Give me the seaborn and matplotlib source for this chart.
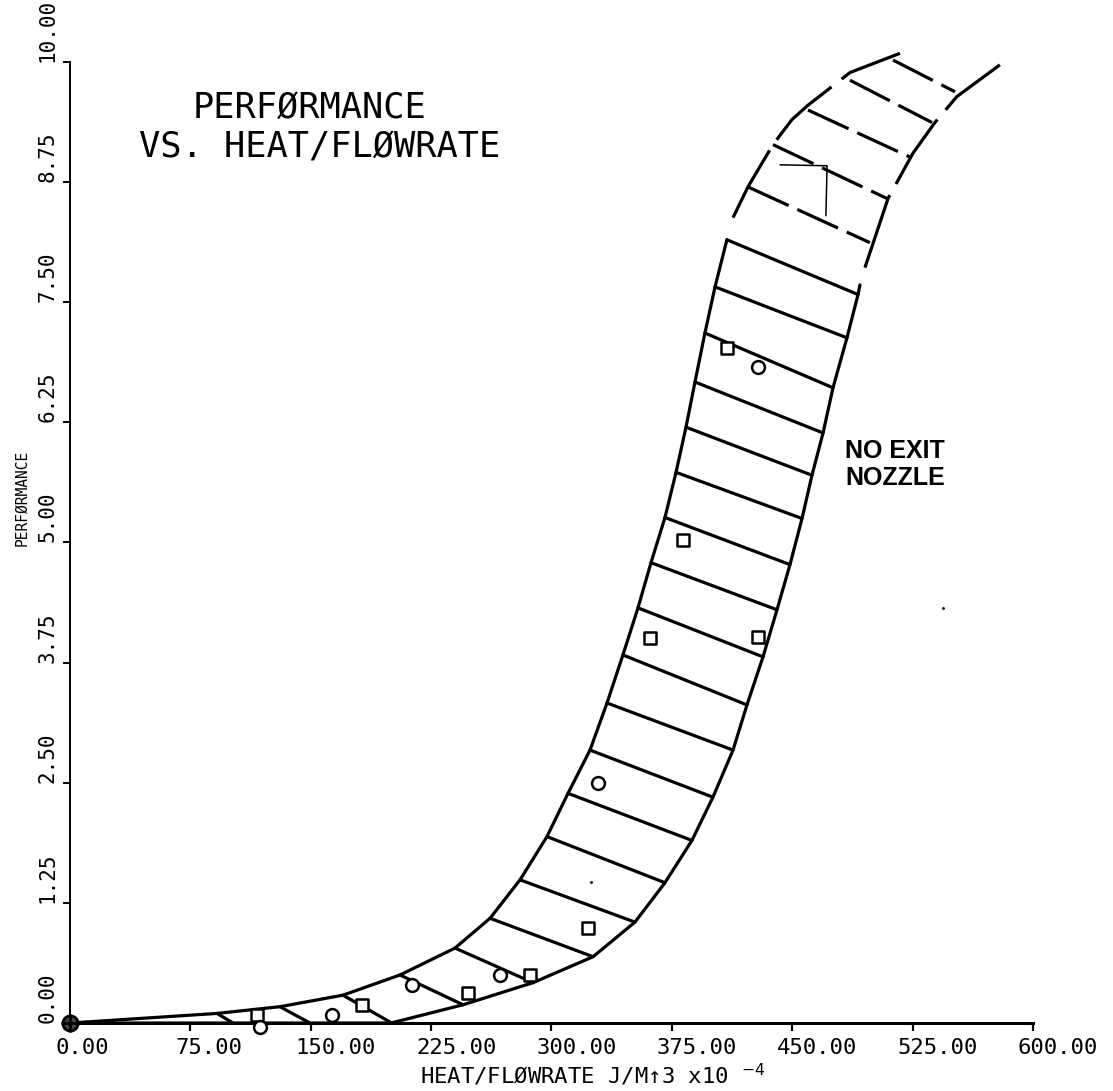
import matplotlib
matplotlib.use("Agg")
import matplotlib.pyplot as plt
import matplotlib.transforms as mtransforms
import pandas as pd
import seaborn as sns

# ---------------- data ----------------
xticks = [0, 75, 150, 225, 300, 375, 450, 525, 600]
xtick_labels = ["0.00", "75.00", "150.00", "225.00", "300.00", "375.00", "450.00", "525.00", "600.00"]
yticks = [0, 1.25, 2.5, 3.75, 5.0, 6.25, 7.5, 8.75, 10.0]
ytick_labels = ["0.00", "1.25", "2.50", "3.75", "5.00", "6.25", "7.50", "8.75", "10.00"]

# upper-left boundary of the band (solid part)
upper_x = [0, 91.6, 130.8, 170.1, 205.6, 239.9, 261.7, 280.4, 297.2, 310.3, 324.0,
           334.6, 344.5, 353.9, 362.0, 370.7, 377.6, 383.8, 389.4, 395.6, 401.9, 409.3]
upper_y = [0, 0.10, 0.17, 0.29, 0.50, 0.78, 1.09, 1.49, 1.94, 2.39, 2.84,
           3.33, 3.83, 4.32, 4.79, 5.26, 5.73, 6.20, 6.67, 7.18, 7.66, 8.15]
# lower-right boundary of the band (solid part)
lower_x = [0, 200.0, 244.9, 288.5, 325.9, 352.0, 370.7, 387.5, 400.6, 413.1, 421.8,
           431.8, 440.5, 448.6, 456.1, 462.3, 469.2, 475.4, 484.1, 491.0, 492.2]
lower_y = [0, 0, 0.19, 0.42, 0.69, 1.05, 1.46, 1.90, 2.35, 2.84, 3.31,
           3.81, 4.30, 4.77, 5.25, 5.70, 6.14, 6.61, 7.13, 7.58, 7.68]
# dashed (extrapolated) continuation
upper_dash_x = [413.1, 422.4, 438.0, 449.8, 459.8, 486.0, 517.1]
upper_dash_y = [8.38, 8.70, 9.14, 9.40, 9.55, 9.89, 10.09]
lower_dash_x = [495.3, 509.7, 525.2, 538.9, 552.6, 579.4]
lower_dash_y = [7.86, 8.58, 9.05, 9.37, 9.64, 9.97]

# cross-hatch lines between the boundaries (solid)
hatch_x0 = [91.6, 130.8, 170.1, 205.6, 239.9, 261.7, 280.4, 297.2, 310.3, 324.0, 334.6,
            344.5, 353.9, 362.0, 370.7, 377.6, 383.8, 389.4, 395.6, 401.9, 409.3]
hatch_y0 = [0.10, 0.17, 0.29, 0.50, 0.78, 1.09, 1.49, 1.94, 2.39, 2.84, 3.33,
            3.83, 4.32, 4.79, 5.26, 5.73, 6.20, 6.67, 7.18, 7.66, 8.15]
hatch_x1 = [101.6, 149.5, 199.4, 244.9, 288.5, 325.9, 352.0, 370.7, 387.5, 400.6, 413.1,
            421.8, 431.8, 440.5, 448.6, 456.1, 462.3, 469.2, 475.4, 484.1, 491.0]
hatch_y1 = [0.0, 0.0, 0.01, 0.19, 0.42, 0.69, 1.05, 1.46, 1.90, 2.35, 2.84,
            3.31, 3.81, 4.30, 4.77, 5.25, 5.70, 6.14, 6.61, 7.13, 7.58]
# dashed cross-hatch lines
dhatch_x0 = [422.4, 438.0, 459.8, 486.0, 512.8]
dhatch_y0 = [8.70, 9.14, 9.50, 9.81, 10.02]
dhatch_x1 = [498.4, 509.0, 523.4, 537.1, 551.4]
dhatch_y1 = [8.12, 8.58, 9.01, 9.37, 9.69]

# measured points
square_x = [116.5, 181.9, 248.0, 286.6, 322.7, 361.4, 382.0, 428.7, 409.3]
square_y = [0.08, 0.19, 0.31, 0.50, 0.99, 4.01, 5.03, 4.02, 7.02]
circle_x = [118.4, 163.2, 213.1, 267.9, 329.0, 428.7]
circle_y = [-0.04, 0.08, 0.40, 0.50, 2.50, 6.83]
origin_x = [0.0]
origin_y = [0.0]

# stray pen marks on the original plot
stroke_x = [442.4, 471.7, 471.0]
stroke_y = [8.93, 8.92, 8.40]
dot_x = [324.6, 544.0]
dot_y = [1.47, 4.32]

# ---------------- plotting ----------------
sns.set_style("ticks")
plt.rcParams["font.family"] = ["DejaVu Sans Mono", "DejaVu Sans"]
plt.rcParams["mathtext.fontset"] = "dejavusans"
plt.rcParams.update({"text.color": "black", "axes.labelcolor": "black",
                     "xtick.color": "black", "ytick.color": "black",
                     "axes.edgecolor": "black"})

fig = plt.figure(figsize=(11.13, 10.91), dpi=100)
ax = fig.add_axes([0.0629, 0.0623, 0.8652, 0.8809])

LW = 2.3
common = dict(color="black", estimator=None, sort=False, legend=False, ax=ax, clip_on=False)

sns.lineplot(x=upper_x, y=upper_y, lw=LW, **common)
sns.lineplot(x=lower_x, y=lower_y, lw=LW, **common)
sns.lineplot(x=upper_dash_x, y=upper_dash_y, lw=LW, linestyle=(0, (24, 4)), **common)
sns.lineplot(x=lower_dash_x, y=lower_dash_y, lw=LW, linestyle=(0, (24, 4)), **common)

hatch_df = pd.DataFrame({
    "seg": list(range(len(hatch_x0))) * 2,
    "x": hatch_x0 + hatch_x1,
    "y": hatch_y0 + hatch_y1,
})
sns.lineplot(data=hatch_df, x="x", y="y", units="seg", lw=LW, **common)

dhatch_df = pd.DataFrame({
    "seg": list(range(len(dhatch_x0))) * 2,
    "x": dhatch_x0 + dhatch_x1,
    "y": dhatch_y0 + dhatch_y1,
})
sns.lineplot(data=dhatch_df, x="x", y="y", units="seg", lw=LW,
             linestyle=(0, (14, 3)), **common)

sns.lineplot(x=stroke_x, y=stroke_y, lw=1.1, **common)

sns.scatterplot(x=square_x, y=square_y, marker="s", s=85, facecolor="white",
                edgecolor="black", linewidth=1.8, zorder=4, clip_on=False, ax=ax, legend=False)
sns.scatterplot(x=circle_x, y=circle_y, marker="o", s=85, facecolor="white",
                edgecolor="black", linewidth=1.8, zorder=4, clip_on=False, ax=ax, legend=False)
sns.scatterplot(x=origin_x, y=origin_y, marker="o", s=120, facecolor="#444444",
                edgecolor="black", linewidth=2.0, zorder=5, clip_on=False, ax=ax, legend=False)
ax.scatter(origin_x, origin_y, marker="+", s=160, color="black", linewidths=2.0,
           zorder=6, clip_on=False)
sns.scatterplot(x=dot_x, y=dot_y, marker="o", s=5, color="black", ax=ax, legend=False)

# axes
ax.set_xlim(0, 600)
ax.set_ylim(0, 10)
sns.despine(ax=ax)
ax.spines["bottom"].set_linewidth(2.2)
ax.spines["left"].set_linewidth(1.4)
ax.spines["bottom"].set_color("black")
ax.spines["left"].set_color("black")

ax.set_xticks(xticks)
ax.set_xticklabels(xtick_labels)
ax.set_yticks(yticks)
ax.set_yticklabels(ytick_labels)
ax.tick_params(axis="x", direction="out", length=6, width=1.6, color="black",
               labelsize=16, pad=5, labelcolor="black")
ax.tick_params(axis="y", direction="out", length=5, width=1.4, color="black",
               labelsize=15, pad=4, labelcolor="black", labelrotation=90)

shift_x = mtransforms.ScaledTranslation(-15 / 100, 0, fig.dpi_scale_trans)
for lab in ax.get_xticklabels():
    lab.set_ha("left")
    lab.set_transform(lab.get_transform() + shift_x)
for lab in ax.get_yticklabels():
    lab.set_va("bottom")

ax.set_xlabel("HEAT/FLØWRATE J/M↑3 x10 $^{-4}$", fontsize=16)
ax.xaxis.label.set_ha("left")
ax.xaxis.label.set_va("baseline")
ax.xaxis.set_label_coords(0.3634, -0.0635)

ax.set_ylabel("PERFØRMANCE", fontsize=10.5)
ax.yaxis.set_label_coords(-0.0425, 0.546)

# annotations
ax.text(76.6, 9.42, "PERFØRMANCE", fontsize=25.5, ha="left", va="baseline", color="black")
ax.text(43.0, 9.01, "VS. HEAT/FLØWRATE", fontsize=25.5, ha="left", va="baseline", color="black")
ax.text(482.9, 5.88, "NO EXIT", fontsize=18, ha="left", va="baseline", color="black",
        family=["Liberation Sans", "DejaVu Sans"], weight="bold")
ax.text(482.9, 5.60, "NOZZLE", fontsize=18, ha="left", va="baseline", color="black",
        family=["Liberation Sans", "DejaVu Sans"], weight="bold")

fig.savefig("out.png", dpi=100)
